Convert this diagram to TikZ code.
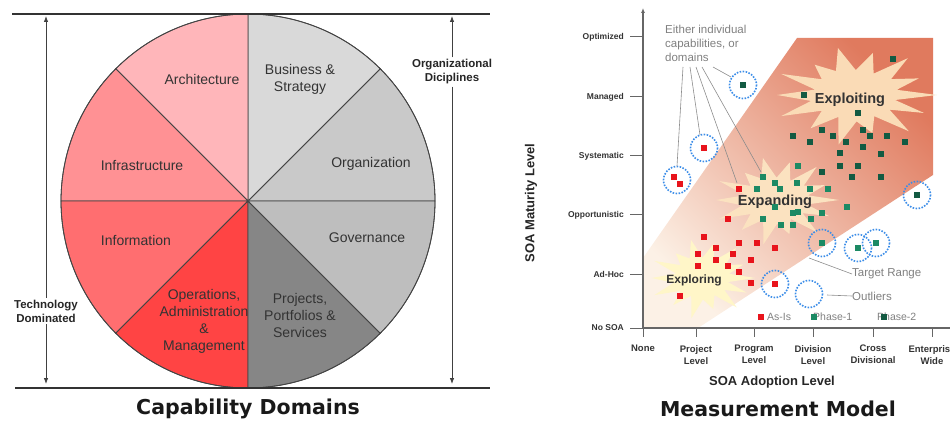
\documentclass[tikz,border=0pt]{standalone}
\usepackage{fontspec}
\setmainfont{Liberation Sans}
\newfontfamily\titlefont{DejaVu Sans}
\usetikzlibrary{arrows.meta,calc}
\definecolor{archC}{HTML}{FFB6BA}
\definecolor{infC}{HTML}{FF9194}
\definecolor{infoC}{HTML}{FF6E70}
\definecolor{opsC}{HTML}{FF4444}
\definecolor{busC}{HTML}{D9D9D9}
\definecolor{orgC}{HTML}{C9C9C9}
\definecolor{govC}{HTML}{BEBEBE}
\definecolor{projC}{HTML}{868686}
\definecolor{lineC}{HTML}{444444}
\definecolor{labC}{HTML}{333333}
\definecolor{ringC}{HTML}{3C8DE8}
\definecolor{asisC}{HTML}{E8141C}
\definecolor{phaseA}{HTML}{1C8A64}
\definecolor{phaseB}{HTML}{135A42}
\definecolor{bandLo}{HTML}{FCF1E6}
\definecolor{bandMid}{HTML}{F0A88E}
\definecolor{bandHi}{HTML}{E07A5E}
\definecolor{burstA}{HTML}{FADBB6}
\definecolor{burstB}{HTML}{FBE2C0}
\definecolor{burstC}{HTML}{FFF6C8}
\def\burstpts{12/0.5,24/0.92,36/0.52,49/1.0,62/0.5,75/0.82,88/0.55,101/1.05,114/0.5,128/0.88,141/0.52,154/1.0,167/0.55,180/0.95,193/0.5,206/1.0,219/0.52,232/0.8,245/0.55,258/1.0,271/0.52,284/0.9,297/0.5,310/1.0,323/0.55,336/0.85,348/0.52}
\newcommand\myburst[4]{%
  \begin{scope}[shift={(#1)}]
  \fill[#4] (#2,0)
    \foreach \ang/\fac in \burstpts { -- ({\fac*#2*cos(\ang)},{\fac*#3*sin(\ang)}) } -- cycle;
  \end{scope}}
\begin{document}
\begin{tikzpicture}[x=1pt,y=-1pt,
  sect/.style={draw=lineC,line width=0.8pt},
  slabel/.style={font=\fontsize{14}{17}\selectfont,text=labC,align=center},
  sidelab/.style={font=\bfseries\fontsize{11.5}{14}\selectfont,align=center,text=black!85,inner sep=2pt},
  dim/.style={draw=black!75,line width=0.8pt,-{Latex[length=6pt,width=4.5pt]}},
  rulel/.style={line width=2pt,draw=black!80},
  ylab/.style={font=\bfseries\fontsize{8.5}{10}\selectfont,anchor=east,text=black!80,inner sep=0pt},
  xlab/.style={font=\bfseries\fontsize{9.5}{12}\selectfont,align=center,anchor=north,text=black!80,inner sep=0pt},
  axisl/.style={draw=black!60,line width=1.4pt},
  note/.style={font=\fontsize{11.5}{14}\selectfont,text=black!50,inner sep=0pt},
  lead/.style={draw=black!45,line width=0.6pt},
  ring/.style={draw=ringC,line width=1.6pt,dash pattern=on 1.6pt off 1.4pt},
  burstlab/.style={font=\bfseries\fontsize{14.5}{16}\selectfont,text=black!80},
  titlel/.style={font=\titlefont\bfseries\fontsize{20.5}{24}\selectfont,text=black!90},
  axtitle/.style={font=\bfseries\fontsize{13}{15}\selectfont,text=black!85}]
\useasboundingbox (0,0) rectangle (950,422);
\clip (0,0) rectangle (950,422);
% ---------------- left panel ----------------
\coordinate (C) at (248,201);
\def\R{187}
\foreach \a/\col in {0/orgC,45/busC,90/archC,135/infC,180/infoC,225/opsC,270/projC,315/govC}
  \filldraw[sect,fill=\col] (C) -- ++(-\a:\R) arc[start angle=-\a,end angle=-\a-45,radius=\R] -- cycle;
\draw[sect] (C) circle[radius=\R];
\draw[rulel] (12,14) -- (490,14);
\draw[rulel] (15,388) -- (490,388);
\node[slabel] (arch) at (202,79) {Architecture};
\node[slabel] (bus) at (300,79) {Business \&\\Strategy};
\node[slabel] (inf) at (142,166) {Infrastructure};
\node[slabel] (org) at (371,164) {Organization};
\node[slabel] (info) at (136,240) {Information};
\node[slabel] (gov) at (367,238) {Governance};
\node[slabel] (ops) at (204,321) {Operations,\\Administration\\\&\\Management};
\node[slabel] (proj) at (300,315) {Projects,\\Portfolios \&\\Services};
\node[sidelab] (td) at (46,311) {Technology\\Dominated};
\coordinate (tdt) at (46,16);
\coordinate (tdb) at (46,384);
\draw[dim] (td) -- (tdt);
\draw[dim] (td) -- (tdb);
\node[sidelab] (od) at (452,72) {Organizational\\Diciplines};
\coordinate (odt) at (452,16);
\coordinate (odb) at (452,384);
\draw[dim] (od) -- (odt);
\draw[dim] (od) -- (odb);
\node[titlel] (capt) at (248,409) {Capability Domains};
% ---------------- right panel ----------------
\shade[top color=bandHi,middle color=bandMid,bottom color=bandLo,shading angle=-45]
  (643,258) -- (797,38) -- (933,38) -- (933,175) -- (698,328) -- (643,328) -- cycle;
\coordinate (bA) at (855,95);
\coordinate (bB) at (776,200);
\coordinate (bC) at (702,278);
\myburst{bA}{82}{48}{burstA}
\myburst{bB}{63}{43}{burstB}
\myburst{bC}{53}{39}{burstC}
\node[burstlab] (expl) at (850,100) {Exploiting};
\node[burstlab] (expa) at (775,202) {Expanding};
\node[burstlab,font=\bfseries\fontsize{12}{14}\selectfont] (explo) at (694,280) {Exploring};
% axes
\coordinate (O) at (643,328);
\coordinate (ytop) at (643,8);
\coordinate (xend) at (950,328);
\draw[axisl,-{Latex[length=5pt,width=4pt]}] (O) -- (ytop);
\draw[axisl] (O) -- (xend);
\foreach \y/\t/\n in {37/Optimized/yo,97/Managed/ym,156/Systematic/ys,215/Opportunistic/yp,274/Ad-Hoc/ya,328/No SOA/yn}{
  \draw[axisl,line width=1pt] (630,\y) -- (643,\y);
  \node[ylab] (\n) at (624,\y) {\t};
}
\foreach \x/\t/\n in {643/None/xn,696/Project\\Level/xp,754/Program\\Level/xg,813/Division\\Level/xd,873/Cross\\Divisional/xc,932/Enterprise\\Wide/xe}{
  \draw[axisl,line width=1pt] (\x,328) -- (\x,337);
  \node[xlab] (\n) at (\x,345) {\t};
}
\node[axtitle] (xt) at (772,382) {SOA Adoption Level};
\node[axtitle,rotate=90] (yt) at (531,203) {SOA Maturity Level};
\node[titlel] (mm) at (778,409) {Measurement Model};
% dots
\foreach \x/\y in {704/148,674/177,680/184,739/189,728/219,704/237,698/254,716/248,739/243,757/243,775/248,733/254,716/260,698/266,728/266,751/260,739/272,751/283,775/284,680/296}
  \fill[asisC] (\x-2.7,\y-2.7) rectangle ++(5.4,5.4);
\foreach \x/\y in {798/166,763/177,775/183,780/189,797/183,757/189,810/189,828/189,847/207,775/207,793/213,798/212,822/213,763/219,781/225,793/225,811/219,822/243,858/248,876/243}
  \fill[phaseA] (\x-2.7,\y-2.7) rectangle ++(5.4,5.4);
\foreach \x/\y in {893/59,743/85,804/95,858/113,822/130,863/130,793/136,810/142,833/136,846/142,870/136,887/136,905/142,863/147,840/153,881/154,840/166,858/166,822/172,852/177,881/177,917/195}
  \fill[phaseB] (\x-2.7,\y-2.7) rectangle ++(5.4,5.4);
% rings
\foreach \x/\y in {743/85,704/148,677/180,917/195,822/243,858/248,876/243,775/284,809/294}
  \draw[ring] (\x,\y) circle[radius=13.5];
% callouts
\node[note,anchor=north west,align=left] (eit) at (665,25) {Either individual\\capabilities, or\\domains};
\coordinate (s1) at (683,67); \coordinate (e1) at (677,166);
\coordinate (s2) at (690,67); \coordinate (e2) at (700,135);
\coordinate (s3) at (696,67); \coordinate (e3) at (737,183);
\coordinate (s4) at (702,67); \coordinate (e4) at (761,172);
\coordinate (s5) at (713,67); \coordinate (e5) at (731,77);
\foreach \i in {1,...,5} \draw[lead] (s\i) -- (e\i);
\node[note,anchor=west] (tr) at (852,274) {Target Range};
\coordinate (trs) at (809,258);
\draw[lead] (trs) -- (tr.west);
\node[note,anchor=west] (ol) at (852,296) {Outliers};
\coordinate (ols) at (827,295);
\draw[lead] (ols) -- (ol.west);
% legend
\node[note,anchor=west,font=\fontsize{10.5}{12}\selectfont] (lg1) at (767,317) {As-Is};
\node[note,anchor=west,font=\fontsize{10.5}{12}\selectfont] (lg2) at (813,317) {Phase-1};
\node[note,anchor=west,font=\fontsize{10.5}{12}\selectfont] (lg3) at (877,317) {Phase-2};
\fill[asisC] (761-2.7,317-2.7) rectangle ++(5.4,5.4);
\fill[phaseA] (814-2.7,317-2.7) rectangle ++(5.4,5.4);
\fill[phaseB] (884-2.7,317-2.7) rectangle ++(5.4,5.4);
\end{tikzpicture}
\end{document}
